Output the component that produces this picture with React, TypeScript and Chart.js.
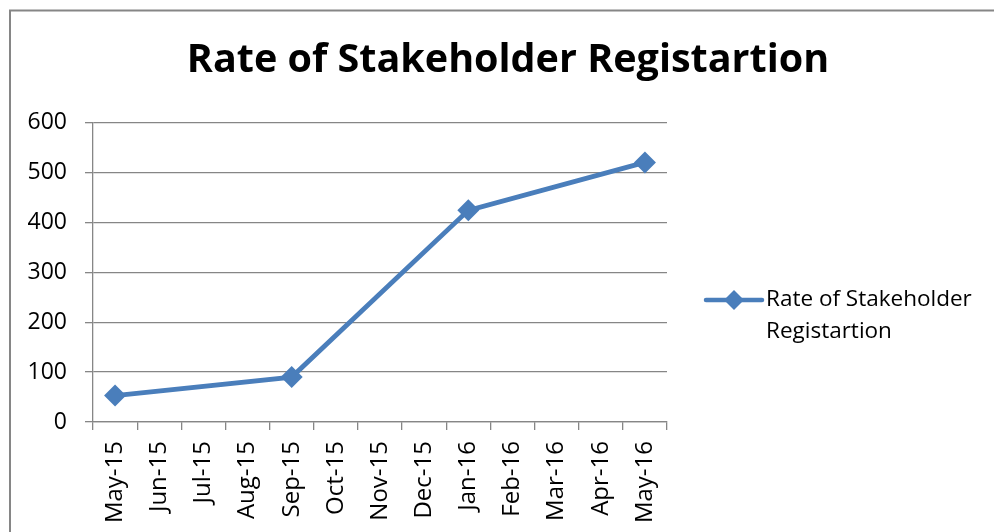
import React, { useEffect, useRef } from "react";
import { Chart, registerables } from "chart.js";

Chart.register(...registerables);

const months = [
  "May-15", "Jun-15", "Jul-15", "Aug-15", "Sep-15", "Oct-15", "Nov-15",
  "Dec-15", "Jan-16", "Feb-16", "Mar-16", "Apr-16", "May-16",
];
const registrations: (number | null)[] = [53, null, null, null, 90, null, null, null, 424, null, null, null, 520];
const seriesName = "Rate of Stakeholder Registartion";
const legendLines = ["Rate of Stakeholder", "Registartion"];
const titleText = "Rate of Stakeholder Registartion";

const FONT = "'Open Sans', sans-serif";
const BLUE = "#4a7ebb";
const GRAY = "#868686";

const framePlugin = {
  id: "frame",
  beforeDraw(chart: any) {
    const ctx = chart.ctx;
    ctx.save();
    ctx.fillStyle = "#ffffff";
    ctx.fillRect(0, 0, chart.width, chart.height);
    ctx.strokeStyle = GRAY;
    ctx.lineWidth = 2;
    ctx.beginPath();
    ctx.moveTo(10, chart.height + 5);
    ctx.lineTo(10, 10.5);
    ctx.lineTo(chart.width + 5, 10.5);
    ctx.stroke();
    // title
    ctx.fillStyle = "#000";
    ctx.font = `bold 39.5px ${FONT}`;
    ctx.textAlign = "center";
    ctx.textBaseline = "middle";
    ctx.fillText(titleText, 508, 61);
    ctx.restore();
  },
  afterDraw(chart: any) {
    const ctx = chart.ctx;
    ctx.save();
    const y = 300;
    ctx.strokeStyle = BLUE;
    ctx.lineWidth = 4.5;
    ctx.lineCap = "round";
    ctx.beginPath();
    ctx.moveTo(706, y);
    ctx.lineTo(762, y);
    ctx.stroke();
    ctx.fillStyle = BLUE;
    ctx.beginPath();
    const r = 10;
    ctx.moveTo(734, y - r);
    ctx.lineTo(734 + r, y);
    ctx.lineTo(734, y + r);
    ctx.lineTo(734 - r, y);
    ctx.closePath();
    ctx.fill();
    ctx.fillStyle = "#000";
    ctx.font = `22.5px ${FONT}`;
    ctx.textAlign = "left";
    ctx.textBaseline = "middle";
    legendLines.forEach((t, i) => ctx.fillText(t, 766, y + i * 32));
    ctx.restore();
  },
};

export default function App() {
  const ref = useRef<HTMLCanvasElement>(null);
  useEffect(() => {
    if (!ref.current) return;
    const chart = new Chart(ref.current, {
      type: "line",
      data: {
        labels: months,
        datasets: [
          {
            label: seriesName,
            data: registrations,
            borderColor: BLUE,
            backgroundColor: BLUE,
            borderWidth: 4.8,
            pointStyle: "rectRot",
            pointRadius: 11,
            pointHoverRadius: 11,
            pointBackgroundColor: BLUE,
            pointBorderColor: BLUE,
            pointBorderWidth: 0,
            spanGaps: true,
            tension: 0,
          },
        ],
      },
      plugins: [framePlugin],
      options: {
        responsive: false,
        animation: false,
        layout: { padding: { top: 122.5, right: 327, bottom: 0, left: 0 } },
        plugins: {
          legend: { display: false },
          title: { display: false },
          tooltip: { enabled: false },
        },
        scales: {
          x: {
            type: "category",
            offset: true,
            afterFit: (s: any) => { s.height = 110; },
            grid: {
              offset: true,
              drawOnChartArea: false,
              drawTicks: true,
              tickLength: 8,
              color: GRAY,
              lineWidth: 1.3,
            },
            border: { color: GRAY, width: 1.3 },
            ticks: {
              autoSkip: false,
              minRotation: 90,
              maxRotation: 90,
              padding: 11,
              color: "#000",
              font: { family: FONT, size: 24 },
            },
          },
          y: {
            min: 0,
            max: 600,
            afterFit: (s: any) => { s.width = 93; },
            ticks: {
              stepSize: 100,
              padding: 18,
              color: "#000",
              font: { family: FONT, size: 23 },
            },
            grid: {
              color: GRAY,
              lineWidth: 1.3,
              tickLength: 8,
              drawTicks: true,
            },
            border: { color: GRAY, width: 1.3 },
          },
        },
      },
    });
    return () => chart.destroy();
  }, []);
  return (
    <div style={{ position: "fixed", left: 0, top: 0, width: 994, height: 532, background: "#fff" }}>
      <canvas ref={ref} width={994} height={532} />
    </div>
  );
}
